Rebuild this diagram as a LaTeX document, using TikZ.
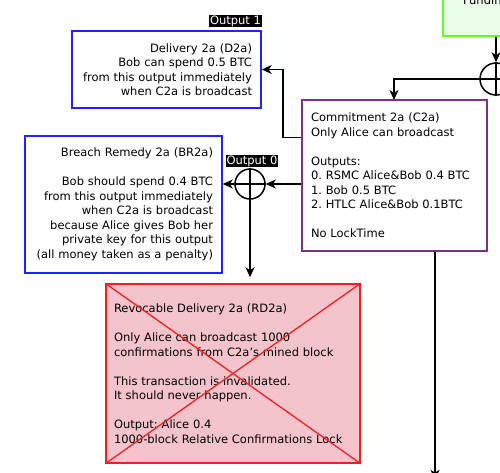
\documentclass[tikz,border=0pt]{standalone}
\usepackage{fontspec}
\setmainfont{DejaVu Sans}
\usetikzlibrary{arrows.meta}
\frenchspacing
\definecolor{boxblue}{HTML}{2222FF}
\definecolor{boxpurple}{HTML}{802E8E}
\definecolor{boxred}{HTML}{F02020}
\definecolor{fillred}{HTML}{F4C3CC}
\definecolor{boxgreen}{HTML}{66FF22}
\definecolor{fillgreen}{HTML}{EAFDE8}
\tikzset{
  txbox/.style={draw, line width=1.5pt, inner xsep=9pt, inner ysep=0pt},
  arr/.style={line width=1.5pt, -{Stealth[length=10pt,width=9pt,inset=3pt]}},
  wire/.style={line width=1.5pt},
  xor/.style={circle, draw, line width=1.5pt, inner sep=0pt},
  outlbl/.style={fill=black, text=white, inner sep=0.6pt},
}
\begin{document}
\begin{tikzpicture}[x=1pt,y=-1pt,font=\fontsize{11.5}{14.5}\selectfont]
    \useasboundingbox (0,0) rectangle (500,472);
    % funding transaction (cut off at the top right)
    \node[draw=boxgreen,fill=fillgreen,line width=1.5pt,minimum width=120pt,minimum height=120pt] (fund) at (503,-24) {};
    \node[anchor=base west,inner sep=0pt] (fundtxt) at (463,4) {Funding};
    \node[xor,minimum size=32pt] (xf) at (496,79) {};
    \draw[arr] (fund.south -| xf) -- (xf.north);
    \draw[wire] (xf.north) -- (xf.south);
    \draw[arr] (xf.east) -- (xf.center) -| (394,100);
    % commitment
    \node[txbox,draw=boxpurple,minimum width=185pt,minimum height=151pt,text width=167pt,align=left] (c2a) at (394.5,175.5)
        {Commitment 2a (C2a)\\Only Alice can broadcast\\[14.5pt]Outputs:\\0. RSMC Alice\&Bob 0.4 BTC\\1. Bob 0.5 BTC\\2. HTLC Alice\&Bob 0.1BTC\\[14.5pt]No LockTime};
    % delivery
    \node[txbox,draw=boxblue,minimum width=189pt,minimum height=77pt,text width=171pt,align=right] (d2a) at (166.5,69.5)
        {Delivery 2a (D2a)\\Bob can spend 0.5 BTC\\from this output immediately\\when C2a is broadcast};
    \node[outlbl,anchor=south east] (out1) at ([yshift=3pt]d2a.north east) {Output 1};
    % breach remedy
    \node[txbox,draw=boxblue,minimum width=197pt,minimum height=137pt,text width=179pt,align=right] (br2a) at (123.5,204.5)
        {Breach Remedy 2a (BR2a)\\[14.5pt]Bob should spend 0.4 BTC\\from this output immediately\\when C2a is broadcast\\because Alice gives Bob her\\private key for this output\\(all money taken as a penalty)};
    \node[xor,minimum size=30pt] (xo) at (250,184) {};
    \node[outlbl,anchor=south] (out0) at ([xshift=2pt,yshift=1pt]xo.north) {Output 0};
    % revocable delivery, crossed out
    \node[txbox,draw=boxred,fill=fillred,inner xsep=8pt,minimum width=254pt,minimum height=179pt,text width=238pt,align=left] (rd2a) at (233,373.5)
        {Revocable Delivery 2a (RD2a)\\[14.5pt]Only Alice can broadcast 1000\\confirmations from C2a's mined block\\[14.5pt]This transaction is invalidated.\\It should never happen.\\[14.5pt]Output: Alice 0.4\\1000-block Relative Confirmations Lock};
    \draw[boxred,line width=1.3pt] (rd2a.north west) -- (rd2a.south east);
    \draw[boxred,line width=1.3pt] (rd2a.south west) -- (rd2a.north east);
    % connectors
    \draw[arr] ([yshift=38pt]c2a.west) -| ([xshift=21pt]d2a.east) -- (d2a.east);
    \draw[arr] ([yshift=-8.5pt]c2a.west) -- (xo.east);
    \draw[arr] (xo.east) -- (xo.west) -- (xo.west -| br2a.east);
    \draw[arr,shorten >=6pt] (xo.north) -- (xo |- rd2a.north);
    \draw[arr] ([xshift=40.5pt]c2a.south) -- ++(0,228);
\end{tikzpicture}
\end{document}
